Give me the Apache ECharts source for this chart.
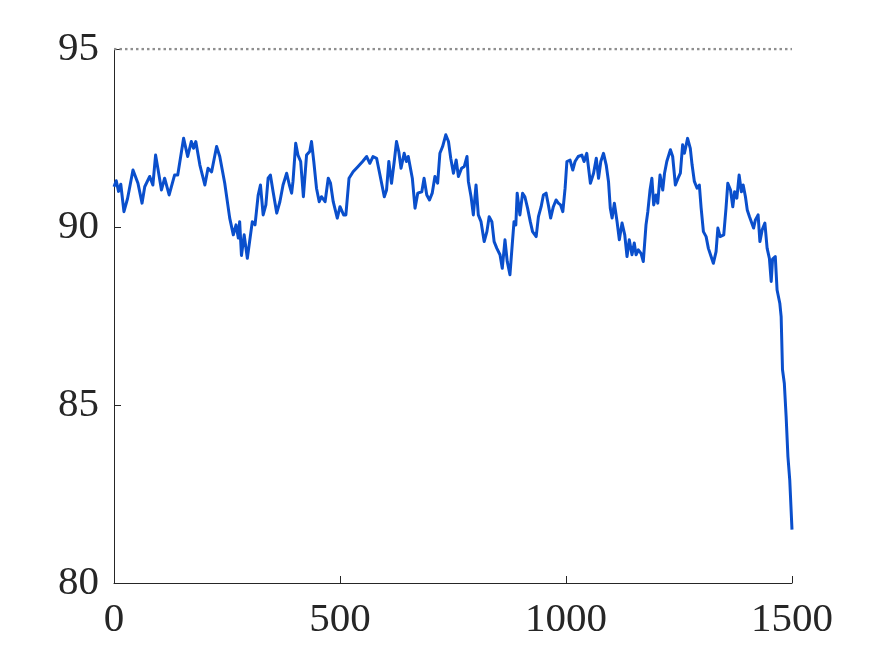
<!DOCTYPE html>
<html>
<head>
<meta charset="utf-8">
<script src="https://cdn.jsdelivr.net/npm/echarts@6/dist/echarts.min.js"></script>
<style>
html,body{margin:0;padding:0;background:#fff;}
#chart{width:875px;height:656px;}
</style>
</head>
<body>
<div id="chart"></div>
<script>
// Data
var steps = [0,5,10,15,22,30,42,53,62,68,79,86,92,97,105,112,122,134,141,154,163,171,176,181,190,201,208,216,227,234,245,256,264,270,275,278,282,288,295,300,306,312,319,324,330,336,341,346,352,360,367,374,382,388,393,396,402,407,413,419,426,433,437,442,448,454,459,467,474,479,485,494,500,508,513,520,529,540,550,559,566,573,581,587,598,603,608,614,620,625,630,635,642,647,651,660,666,672,681,686,692,698,704,710,716,721,727,734,740,745,751,757,762,769,775,781,784,790,795,801,806,812,819,825,830,836,841,847,854,859,865,870,876,881,885,889,892,898,904,909,915,921,926,934,939,945,950,956,961,966,972,978,983,988,993,998,1002,1009,1015,1020,1027,1035,1040,1046,1054,1061,1067,1072,1077,1083,1089,1094,1098,1102,1107,1113,1118,1124,1130,1135,1140,1146,1151,1155,1160,1166,1171,1177,1181,1186,1190,1194,1199,1203,1208,1214,1218,1223,1231,1236,1242,1248,1253,1258,1262,1269,1275,1279,1284,1290,1295,1299,1304,1310,1315,1321,1326,1332,1336,1341,1349,1354,1358,1364,1369,1373,1378,1383,1388,1392,1397,1401,1406,1410,1415,1419,1425,1429,1434,1440,1445,1450,1454,1457,1463,1467,1473,1476,1479,1483,1487,1491,1495,1500];
var accuracy = [91.13,91.3,91.0,91.2,90.43,90.8,91.6,91.23,90.67,91.13,91.42,91.18,92.02,91.65,91.04,91.37,90.9,91.46,91.46,92.49,91.98,92.4,92.21,92.4,91.74,91.18,91.65,91.55,92.26,91.98,91.23,90.25,89.78,90.06,89.69,90.15,89.2,89.78,89.12,89.59,90.15,90.06,90.9,91.18,90.34,90.62,91.37,91.46,90.99,90.39,90.71,91.18,91.51,91.18,90.95,91.28,92.35,92.02,91.84,90.85,92.02,92.12,92.4,91.84,91.09,90.71,90.85,90.71,91.37,91.23,90.71,90.25,90.57,90.34,90.34,91.37,91.55,91.7,91.84,91.98,91.79,91.98,91.93,91.55,90.85,91.04,91.84,91.23,91.84,92.4,92.12,91.65,92.07,91.84,91.98,91.37,90.53,90.95,90.99,91.37,90.9,90.76,90.95,91.42,91.23,92.07,92.26,92.59,92.4,91.93,91.51,91.88,91.42,91.65,91.7,91.98,91.28,90.85,90.34,91.18,90.34,90.15,89.59,89.87,90.29,90.15,89.59,89.4,89.22,88.84,89.64,89.03,88.66,89.5,90.15,90.06,90.95,90.34,90.95,90.85,90.53,90.15,89.87,89.73,90.29,90.57,90.9,90.95,90.62,90.25,90.57,90.76,90.67,90.62,90.43,91.09,91.84,91.88,91.6,91.84,91.98,92.02,91.84,92.07,91.23,91.51,91.93,91.37,91.84,92.07,91.74,91.28,90.53,90.25,90.67,90.15,89.64,90.11,89.78,89.17,89.64,89.22,89.55,89.22,89.36,89.26,89.03,90.06,90.43,91.05,91.37,90.62,90.9,90.67,91.46,91.04,91.51,91.84,92.17,91.98,91.18,91.37,91.51,92.31,92.07,92.49,92.21,91.74,91.28,91.09,91.18,90.53,89.87,89.73,89.4,89.17,88.98,89.31,89.97,89.73,89.78,90.53,91.23,91.04,90.57,90.99,90.81,91.46,90.99,91.18,90.85,90.48,90.29,90.15,89.97,90.2,90.34,89.59,89.92,90.11,89.4,89.12,88.47,89.1,89.17,88.23,87.86,87.48,85.99,85.61,84.68,83.55,82.9,81.5];
var referenceLevel = 95;
var xRange = [0, 1500];
var yRange = [80, 95];

var lineData = steps.map(function (s, i) { return [s, accuracy[i]]; });
var refData = [[xRange[0], referenceLevel], [xRange[1], referenceLevel]];

var chart = echarts.init(document.getElementById('chart'), null, {renderer: 'canvas'});
var labelFont = {fontFamily: 'Liberation Serif', fontSize: 41, color: '#262626'};
chart.setOption({
  animation: false,
  backgroundColor: '#ffffff',
  grid: {left: 114, right: 83, top: 49, bottom: 73, containLabel: false},
  xAxis: {
    type: 'value', min: xRange[0], max: xRange[1], interval: 500,
    axisLine: {show: true, onZero: false, lineStyle: {color: '#262626', width: 1}},
    axisTick: {show: true, inside: true, length: 7, lineStyle: {color: '#262626'}},
    axisLabel: Object.assign({margin: 17, formatter: function (v) { return String(v); }}, labelFont),
    splitLine: {show: false}
  },
  yAxis: {
    type: 'value', min: yRange[0], max: yRange[1], interval: 5,
    axisLine: {show: true, onZero: false, lineStyle: {color: '#262626', width: 1}},
    axisTick: {show: true, inside: true, length: 7, lineStyle: {color: '#262626'}},
    axisLabel: Object.assign({margin: 15, formatter: function (v) { return String(v); }}, labelFont),
    splitLine: {show: false}
  },
  series: [
    {
      type: 'line', data: refData, symbol: 'none', silent: true,
      lineStyle: {color: '#8f8f8f', width: 2.5, type: [2.5, 3]}
    },
    {
      type: 'line', data: lineData, symbol: 'none',
      lineStyle: {color: '#0a4fcc', width: 3, join: 'round'}
    }
  ]
});
</script>
</body>
</html>
